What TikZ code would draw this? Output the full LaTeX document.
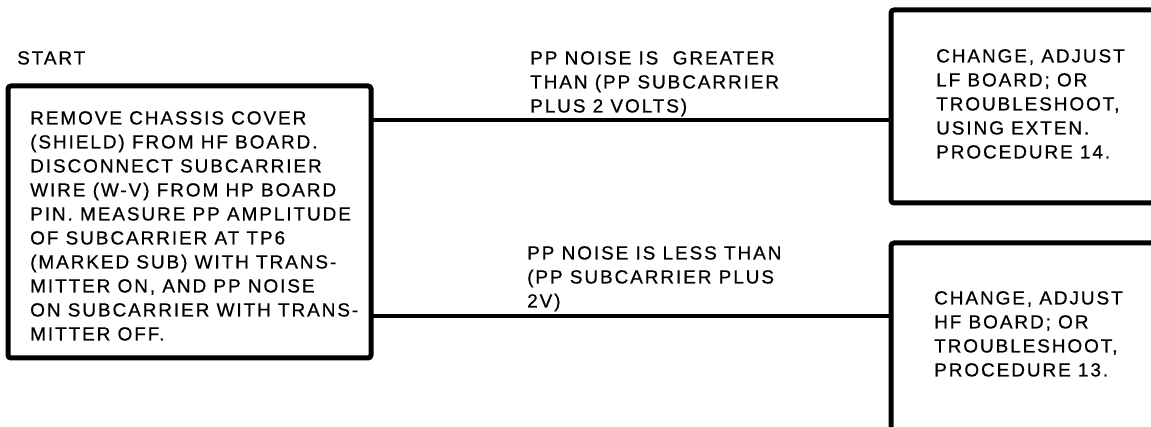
\documentclass[tikz,border=0pt]{standalone}
\usepackage{fontspec}
\setmainfont{Liberation Sans}
\begin{document}
\begin{tikzpicture}[x=1pt,y=-1pt,
  boxline/.style={line width=5pt, rounded corners=3pt},
  conn/.style={line width=3.5pt},
  txt/.style={anchor=north west, align=left, inner sep=0pt,
    font=\fontsize{19}{24}\selectfont\addfontfeatures{LetterSpace=10,FakeBold=0.6}}]
\useasboundingbox (0,0) rectangle (1151,427);
% boxes
\draw[boxline] (8,86) rectangle (371,358);
\coordinate (startbox-e1) at (371,120);
\coordinate (startbox-e2) at (371,316);
\draw[boxline] (1170,10) -- (891,10) -- (891,203) -- (1170,203);
\draw[boxline] (1170,243) -- (891,243) -- (891,440);
\coordinate (lfbox-w) at (891,120);
\coordinate (hfbox-w) at (891,316);
% connectors
\draw[conn] (startbox-e1) -- (lfbox-w);
\draw[conn] (startbox-e2) -- (hfbox-w);
% texts
\node[txt] (start) at (17,51) {START};
\node[txt] (main) at (30,111) {REMOVE CHASSIS COVER\\(SHIELD) FROM HF BOARD.\\DISCONNECT SUBCARRIER\\WIRE (W-V) FROM HP BOARD\\PIN. MEASURE PP AMPLITUDE\\OF SUBCARRIER AT TP6\\(MARKED SUB) WITH TRANS-\\MITTER ON, AND PP NOISE\\ON SUBCARRIER WITH TRANS-\\MITTER OFF.};
\node[txt] (lab1) at (530,51) {PP NOISE IS \ GREATER\\THAN (PP SUBCARRIER\\PLUS 2 VOLTS)};
\node[txt] (lab2) at (527,246) {PP NOISE IS LESS THAN\\(PP SUBCARRIER PLUS\\2V)};
\node[txt] (lf) at (936,49) {CHANGE, ADJUST\\LF BOARD; OR\\TROUBLESHOOT,\\USING EXTEN.\\PROCEDURE 14.};
\node[txt] (hf) at (934,291) {CHANGE, ADJUST\\HF BOARD; OR\\TROUBLESHOOT,\\PROCEDURE 13.};
\end{tikzpicture}
\end{document}
